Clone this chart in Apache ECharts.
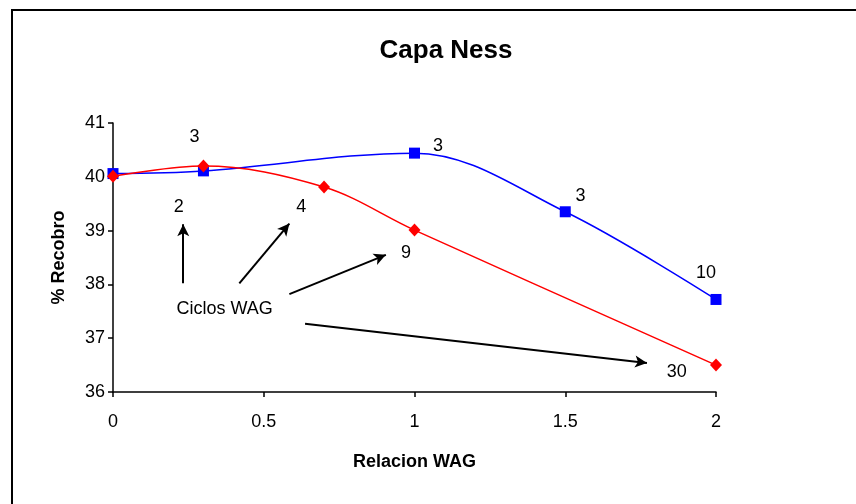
<!DOCTYPE html>
<html>
<head>
<meta charset="utf-8">
<script src="https://cdn.jsdelivr.net/npm/echarts@6/dist/echarts.min.js"></script>
<style>
  html, body { margin: 0; padding: 0; background: #fff; }
  #chart { width: 856px; height: 504px; }
</style>
</head>
<body>
<div id="chart"></div>
<script>
// Relacion WAG vs % Recobro, Capa Ness
const relacionBlue = [0, 0.3, 1, 1.5, 2];
const recobroBlue = [40.06, 40.11, 40.44, 39.35, 37.72];

const relacionRed = [0, 0.3, 0.7, 1, 2];
const recobroRed = [40.01, 40.2, 39.81, 39.01, 36.5];

// Ciclos WAG annotations: text and anchor in axis units
const noteText = ['3', '3', '3', '10', '2', '4', '9', '30', 'Ciclos WAG'];
const noteX = [0.27, 1.078, 1.551, 1.967, 0.218, 0.624, 0.972, 1.87, 0.37];
const noteY = [40.74, 40.57, 39.64, 38.22, 39.44, 39.44, 38.59, 36.38, 37.54];

// arrows from the "Ciclos WAG" label towards the cycle counts
const arrowFromX = [0.233, 0.419, 0.585, 0.637];
const arrowFromY = [38.02, 38.02, 37.82, 37.27];
const arrowToX = [0.233, 0.585, 0.905, 1.771];
const arrowToY = [39.12, 39.13, 38.55, 36.54];

const xTicks = [0, 0.5, 1, 1.5, 2];
const yTicks = [36, 37, 38, 39, 40, 41];

const FONT = '"Liberation Sans", Arial, sans-serif';

const pairs = (xs, ys) => xs.map((x, i) => [x, ys[i]]);

const chart = echarts.init(document.getElementById('chart'), null, { renderer: 'canvas' });

chart.setOption({
  animation: false,
  backgroundColor: '#fff',
  title: {
    text: 'Capa Ness',
    left: 441,
    top: 33,
    textAlign: 'center',
    textStyle: { fontFamily: FONT, fontSize: 26, fontWeight: 'bold', color: '#000' }
  },
  graphic: [{
    type: 'rect',
    shape: { x: 12, y: 10, width: 900, height: 600 },
    style: { fill: 'none', stroke: '#000', lineWidth: 2 },
    silent: true
  }],
  grid: { left: 113, right: 140, top: 123, bottom: 112, containLabel: false },
  xAxis: {
    type: 'value',
    min: xTicks[0],
    max: xTicks[xTicks.length - 1],
    interval: 0.5,
    name: 'Relacion WAG',
    nameLocation: 'middle',
    nameGap: 61,
    nameTextStyle: { fontFamily: FONT, fontSize: 18, fontWeight: 'bold', color: '#000' },
    axisLine: { lineStyle: { color: '#000', width: 1.5 } },
    axisTick: { show: true, length: 5, inside: false, lineStyle: { color: '#000', width: 1.5 } },
    axisLabel: { fontFamily: FONT, fontSize: 18, color: '#000', margin: 21, formatter: v => String(v) },
    splitLine: { show: false }
  },
  yAxis: {
    type: 'value',
    min: yTicks[0],
    max: yTicks[yTicks.length - 1],
    interval: 1,
    name: '% Recobro',
    nameLocation: 'middle',
    nameGap: 45,
    nameRotate: 90,
    nameTextStyle: { fontFamily: FONT, fontSize: 18, fontWeight: 'bold', color: '#000' },
    axisLine: { show: true, lineStyle: { color: '#000', width: 1.5 } },
    axisTick: { show: true, length: 5, inside: false, lineStyle: { color: '#000', width: 1.5 } },
    axisLabel: { fontFamily: FONT, fontSize: 18, color: '#000', margin: 8 },
    splitLine: { show: false }
  },
  series: [
    {
      type: 'line',
      data: pairs(relacionBlue, recobroBlue),
      smooth: 0.35,
      symbol: 'rect',
      symbolSize: 11,
      itemStyle: { color: '#0000ff' },
      lineStyle: { color: '#0000ff', width: 1.5 },
      z: 3
    },
    {
      type: 'line',
      data: pairs(relacionRed, recobroRed),
      smooth: 0.35,
      symbol: 'diamond',
      symbolSize: [12, 13],
      itemStyle: { color: '#ff0000' },
      lineStyle: { color: '#ff0000', width: 1.5 },
      z: 4
    },
    {
      type: 'scatter',
      symbolSize: 0,
      silent: true,
      itemStyle: { opacity: 1 },
      data: noteText.map((t, i) => ({ name: t, value: [noteX[i], noteY[i]] })),
      label: {
        show: true,
        position: 'inside',
        formatter: '{b}',
        fontFamily: FONT,
        fontSize: 18,
        color: '#000',
        opacity: 1
      },
      markLine: {
        silent: true,
        symbol: ['none', 'arrow'],
        symbolSize: [9, 12],
        label: { show: false },
        lineStyle: { color: '#000', width: 2, type: 'solid', opacity: 1 },
        data: arrowFromX.map((x, i) => [
          { coord: [x, arrowFromY[i]] },
          { coord: [arrowToX[i], arrowToY[i]] }
        ])
      },
      z: 5
    }
  ]
});
</script>
</body>
</html>
